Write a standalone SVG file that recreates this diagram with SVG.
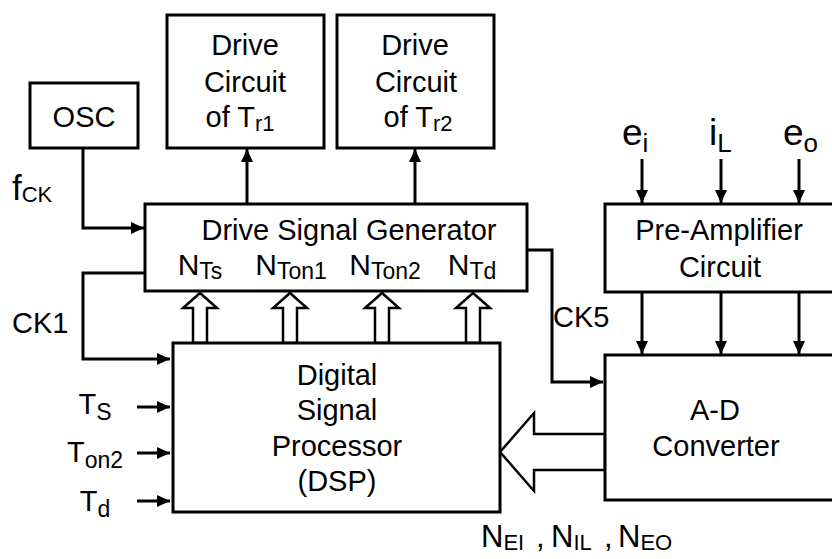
<svg xmlns="http://www.w3.org/2000/svg" width="832" height="559" viewBox="0 0 832 559">
<style>
.box{fill:#fff;stroke:#000;stroke-width:3}
.ln{fill:none;stroke:#000;stroke-width:3;marker-end:url(#ah)}
.bus{fill:#fff;stroke:#000;stroke-width:2.5;stroke-linejoin:miter}
text{font-family:"Liberation Sans",Arial,sans-serif;font-size:29px;fill:#000}
.m{text-anchor:middle}
.s22{font-size:22px}
.s23{font-size:23px}
.big{font-size:37px}
.s26{font-size:26px}
.n30{font-size:30px}
</style>
<defs>
<marker id="ah" markerUnits="userSpaceOnUse" markerWidth="14" markerHeight="14" refX="13" refY="6" orient="auto">
<path d="M0,0 L13,6 L0,12 Z" fill="#000"/>
</marker>
</defs>
<rect width="832" height="559" fill="#fff"/>

<g id="connectors">
<path class="ln" d="M83,148 V228 H144"/>
<path class="ln" d="M145,273 H83 V359 H170"/>
<path class="ln" d="M527,250 H552 V382 H603"/>
<path class="ln" d="M247,204 V149"/>
<path class="ln" d="M415,204 V149"/>
<path class="ln" d="M642,159 V203"/>
<path class="ln" d="M721,159 V203"/>
<path class="ln" d="M799,159 V203"/>
<path class="ln" d="M642,292 V354"/>
<path class="ln" d="M721,292 V354"/>
<path class="ln" d="M799,292 V354"/>
<path class="ln" d="M137,407 H170"/>
<path class="ln" d="M137,453 H170"/>
<path class="ln" d="M137,501 H170"/>
<polygon class="bus" points="193,343 193,308 183,308 200,293 217,308 207,308 207,343"/>
<polygon class="bus" points="283,343 283,308 273,308 290,293 307,308 297,308 297,343"/>
<polygon class="bus" points="375,343 375,308 365,308 382,293 399,308 389,308 389,343"/>
<polygon class="bus" points="466,343 466,308 456,308 473,293 490,308 480,308 480,343"/>
<polygon class="bus" points="605,434 534,434 534,413 500,452 534,491 534,470 605,470"/>
</g>

<g id="osc">
<rect class="box" x="30" y="83" width="108" height="65"/>
<text class="m" x="84" y="127">OSC</text>
</g>

<g id="drive-tr1">
<rect class="box" x="167" y="15" width="157" height="133"/>
<text class="m" x="245" y="55">Drive</text>
<text class="m" x="245" y="92">Circuit</text>
<text class="m" x="240" y="127">of T<tspan class="s22" dy="4">r1</tspan></text>
</g>

<g id="drive-tr2">
<rect class="box" x="337" y="15" width="157" height="133"/>
<text class="m" x="415" y="55">Drive</text>
<text class="m" x="416" y="92">Circuit</text>
<text class="m" x="418" y="127">of T<tspan class="s22" dy="4">r2</tspan></text>
</g>

<g id="dsg">
<rect class="box" x="145" y="204" width="382" height="87"/>
<text class="m" x="349" y="240">Drive Signal Generator</text>
<text class="m n30" x="200" y="275">N<tspan class="s23" dy="4">Ts</tspan></text>
<text class="m n30" x="291" y="275">N<tspan class="s23" dy="4">Ton1</tspan></text>
<text class="m n30" x="385" y="275">N<tspan class="s23" dy="4">Ton2</tspan></text>
<text class="m n30" x="472" y="275">N<tspan class="s23" dy="4">Td</tspan></text>
</g>

<g id="dsp">
<rect class="box" x="173" y="343" width="327" height="169"/>
<text class="m" x="337" y="385">Digital</text>
<text class="m" x="337" y="420">Signal</text>
<text class="m" x="337" y="456">Processor</text>
<text class="m" x="337" y="491">(DSP)</text>
</g>

<g id="preamp">
<rect class="box" x="605" y="204" width="240" height="88"/>
<text class="m" x="719" y="240">Pre-Amplifier</text>
<text class="m" x="720" y="277">Circuit</text>
</g>

<g id="adc">
<rect class="box" x="605" y="355" width="240" height="145"/>
<text class="m" x="715" y="420">A-D</text>
<text class="m" x="716" y="456">Converter</text>
</g>

<g id="labels">
<text x="12" y="200" style="font-size:35px">f<tspan class="s22" dy="2">CK</tspan></text>
<text x="12" y="333">CK1</text>
<text x="553" y="327">CK5</text>
<text class="m" x="95" y="414">T<tspan class="s23" dy="6">S</tspan></text>
<text class="m" x="95" y="462">T<tspan class="s23" dy="6">on2</tspan></text>
<text class="m" x="95" y="511">T<tspan class="s23" dy="6">d</tspan></text>
<text x="622" y="145" class="big">e<tspan class="s26" dy="7">i</tspan></text>
<text x="709" y="145" class="big">i<tspan class="s26" dy="7">L</tspan></text>
<text x="783" y="145" class="big">e<tspan class="s26" dy="7">o</tspan></text>
<text y="547" style="font-size:31px"><tspan x="481">N</tspan><tspan class="s22" dy="3">EI</tspan><tspan x="536" dy="-3">,</tspan><tspan x="551">N</tspan><tspan class="s22" dy="3">IL</tspan><tspan x="604" dy="-3">,</tspan><tspan x="618">N</tspan><tspan class="s22" dy="3">EO</tspan></text>
</g>
</svg>
